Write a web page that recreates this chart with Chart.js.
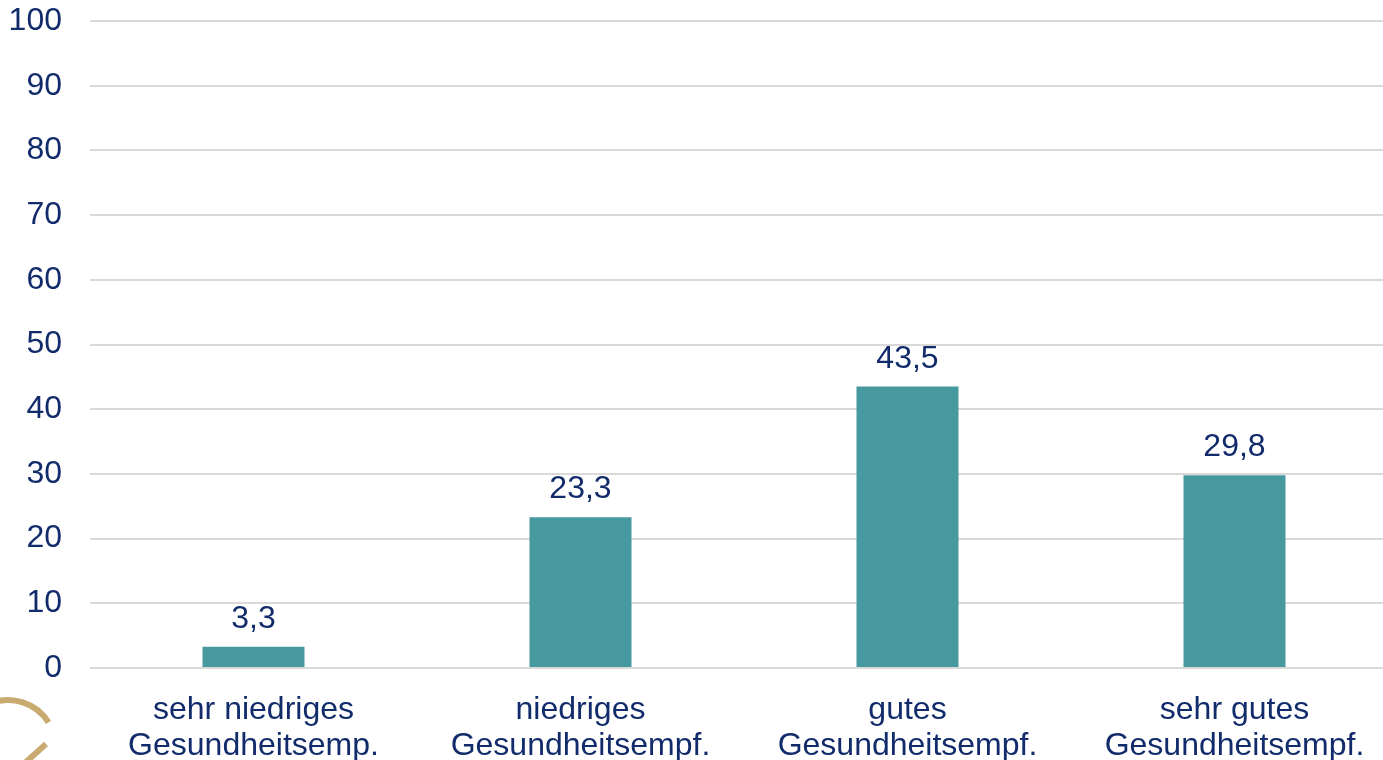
<!DOCTYPE html>
<html>
<head>
<meta charset="utf-8">
<script src="https://cdn.jsdelivr.net/npm/chart.js@4/dist/chart.umd.min.js"></script>
<style>
  html, body { margin: 0; padding: 0; background: #fff; overflow: hidden; }
  /* plot runs a little past the right edge of the window */
  #wrap { width: 1398px; height: 760px; position: relative; }
</style>
</head>
<body>
<div id="wrap"><canvas id="chart"></canvas></div>
<script>
const categories = [
  ['sehr niedriges', 'Gesundheitsemp.'],
  ['niedriges', 'Gesundheitsempf.'],
  ['gutes', 'Gesundheitsempf.'],
  ['sehr gutes', 'Gesundheitsempf.']
];
const values = [3.3, 23.3, 43.5, 29.8];
const yTicks = [0, 10, 20, 30, 40, 50, 60, 70, 80, 90, 100];

const textColor = '#112b6b';
const barColor = '#4799a0';
const fontFamily = '"Liberation Sans", Arial, sans-serif';

// value above each bar, German decimal comma
const valueLabels = {
  id: 'valueLabels',
  afterDatasetsDraw(chart) {
    const ctx = chart.ctx;
    const meta = chart.getDatasetMeta(0);
    ctx.save();
    ctx.font = '32px ' + fontFamily;
    ctx.fillStyle = textColor;
    ctx.textAlign = 'center';
    ctx.textBaseline = 'alphabetic';
    meta.data.forEach((bar, i) => {
      const { x, y } = bar.getProps(['x', 'y'], true);
      ctx.fillText(values[i].toFixed(1).replace('.', ','), x, y - 19);
    });
    ctx.restore();
  }
};

// small gold mark in the lower left corner
const cornerMark = {
  id: 'cornerMark',
  afterDraw(chart) {
    const ctx = chart.ctx;
    ctx.save();
    ctx.strokeStyle = '#c9ab72';
    ctx.lineWidth = 6;
    ctx.beginPath();
    ctx.arc(8, 748, 48, -Math.PI * 0.62, -Math.PI * 0.18);
    ctx.stroke();
    ctx.beginPath();
    ctx.moveTo(26, 762);
    ctx.lineTo(46, 744);
    ctx.stroke();
    ctx.restore();
  }
};

new Chart(document.getElementById('chart'), {
  type: 'bar',
  data: {
    labels: categories,
    datasets: [{
      data: values,
      backgroundColor: barColor,
      barPercentage: 0.624,
      categoryPercentage: 0.5
    }]
  },
  plugins: [valueLabels, cornerMark],
  options: {
    responsive: true,
    maintainAspectRatio: false,
    animation: false,
    layout: {
      padding: { top: 21, right: 0, bottom: 0, left: 0 }
    },
    plugins: {
      legend: { display: false },
      tooltip: { enabled: false }
    },
    scales: {
      x: {
        border: { display: false },
        grid: { display: false },
        ticks: {
          color: textColor,
          font: { family: fontFamily, size: 32, lineHeight: 1.1 },
          padding: 17,
          maxRotation: 0,
          autoSkip: false
        },
        afterFit(scale) {
          scale.height = 92;
          scale.paddingLeft = 0;
          scale.paddingRight = 0;
        }
      },
      y: {
        min: 0,
        max: 100,
        border: { display: false },
        grid: {
          color: '#d9d9d9',
          lineWidth: 2,
          drawTicks: false
        },
        afterBuildTicks(scale) {
          scale.ticks = yTicks.map(v => ({ value: v }));
        },
        ticks: {
          color: textColor,
          font: { family: fontFamily, size: 32 },
          padding: 28
        },
        afterFit(scale) {
          scale.width = 90;
          scale.paddingTop = 0;
          scale.paddingBottom = 0;
        }
      }
    }
  }
});
</script>
</body>
</html>
